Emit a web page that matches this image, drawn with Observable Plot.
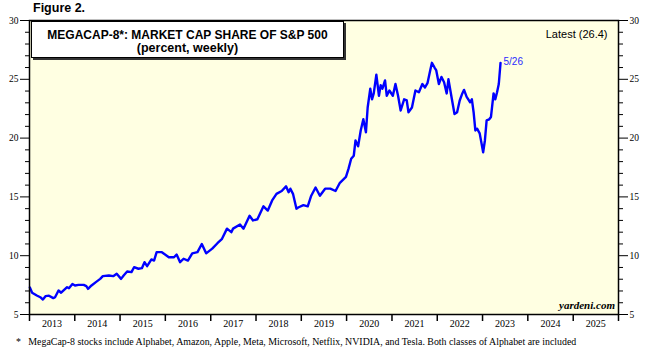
<!DOCTYPE html>
<html>
<head>
<meta charset="utf-8">
<script src="https://cdn.jsdelivr.net/npm/d3@7"></script>
<script src="https://cdn.jsdelivr.net/npm/@observablehq/plot@0.6"></script>
<style>
  html, body { margin: 0; padding: 0; background: white; }
  #wrap { position: relative; width: 647px; height: 348px; overflow: hidden; }
  #wrap svg { position: absolute; left: 0; top: 0; }
  .fig { position: absolute; left: 33px; top: 1px; font: bold 12.5px "Liberation Sans", Arial, sans-serif; }
  .tbox { position: absolute; left: 31px; top: 21px; width: 311px; height: 35px; background: white;
          border: 1px solid #000; box-shadow: 2px 2px 0 #333; text-align: center;
          font-family: "Liberation Sans", Arial, sans-serif; font-weight: bold; }
  .tbox .t1 { font-size: 12px; margin-top: 7px; line-height: 13px; }
  .tbox .t2 { font-size: 12.5px; line-height: 13px; }
  .foot { position: absolute; left: 16px; top: 336px; font: 9.9px "Liberation Serif", "Times New Roman", serif; white-space: nowrap; }
  .brand { position: absolute; right: 32px; top: 299px; font: bold italic 11px "Liberation Serif", "Times New Roman", serif; }
</style>
</head>
<body>
<div id="wrap"></div>
<script>
// ---- Data ----
const dates = [
"2013-01-04","2013-01-22","2013-03-01","2013-03-29","2013-04-19","2013-05-10","2013-06-07","2013-07-12","2013-07-26","2013-08-23",
"2013-09-13","2013-10-31","2013-11-15","2013-12-13","2014-01-03","2014-01-31","2014-03-14","2014-04-04","2014-04-18","2014-05-16",
"2014-06-20","2014-07-25","2014-08-15","2014-10-03","2014-11-07","2014-12-05","2015-01-09","2015-01-30","2015-02-27","2015-04-03",
"2015-04-24","2015-05-29","2015-06-26","2015-07-17","2015-08-07","2015-09-11","2015-10-02","2015-10-23","2015-12-04","2016-01-29",
"2016-03-11","2016-04-01","2016-04-29","2016-05-27","2016-07-01","2016-08-05","2016-09-16","2016-10-21","2016-11-25","2017-01-13",
"2017-02-24","2017-03-31","2017-05-12","2017-06-16","2017-06-30","2017-08-25","2017-09-22","2017-11-10","2017-12-08","2018-01-12",
"2018-03-02","2018-04-06","2018-05-11","2018-06-15","2018-07-27","2018-08-31","2018-09-21","2018-10-05","2018-10-26","2018-11-23",
"2018-12-07","2019-01-18","2019-02-22","2019-03-22","2019-04-26","2019-05-31","2019-07-12","2019-08-23","2019-10-04","2019-11-08",
"2019-12-27","2020-01-17","2020-02-07","2020-02-28","2020-03-13","2020-04-03","2020-04-24","2020-05-15","2020-06-05","2020-06-19",
"2020-07-10","2020-07-24","2020-08-07","2020-08-28","2020-09-18","2020-10-02","2020-10-16","2020-11-06","2020-11-20","2020-12-11",
"2021-01-08","2021-01-29","2021-02-19","2021-03-12","2021-04-09","2021-04-30","2021-05-14","2021-06-11","2021-07-09","2021-08-06",
"2021-09-03","2021-09-24","2021-10-15","2021-11-05","2021-11-19","2021-12-10","2021-12-24","2022-01-14","2022-02-04","2022-02-25",
"2022-03-18","2022-04-01","2022-04-29","2022-05-20","2022-06-10","2022-07-01","2022-07-22","2022-08-05","2022-08-26","2022-09-23",
"2022-10-07","2022-10-21","2022-11-04","2022-11-18","2022-12-09","2023-01-06","2023-01-20","2023-02-03","2023-02-24","2023-03-10",
"2023-03-31","2023-04-14","2023-04-28","2023-05-12","2023-05-26"
];
const values = [
7.3,6.85,6.62,6.47,6.27,6.56,6.6,6.39,6.47,7.04,
6.85,7.32,7.24,7.6,7.47,7.52,7.52,7.41,7.18,7.47,
7.75,8.03,8.26,8.32,8.26,8.46,8.03,8.32,8.66,8.6,
9.02,8.89,8.94,9.45,9.11,9.68,9.59,10.3,10.3,9.87,
9.87,10.1,9.45,9.74,9.59,10.2,10.3,11.0,10.2,10.6,
11.06,11.4,12.3,12.0,12.3,12.65,12.3,13.4,13.0,13.1,
14.2,13.84,14.7,15.26,15.5,15.9,15.4,15.7,15.26,14.0,
14.1,14.3,14.2,15.1,15.8,15.1,15.7,15.7,15.5,16.2,
16.7,17.4,18.24,18.5,19.8,19.3,20.65,21.6,20.5,22.6,
24.2,23.3,23.8,25.4,23.6,24.5,24.2,24.9,23.6,24.05,
23.6,24.6,23.6,22.35,23.3,23.2,22.2,22.6,24.05,23.9,
24.6,24.3,24.7,25.75,26.4,26.0,25.75,24.6,25.2,24.75,
23.8,25.0,23.3,22.05,22.2,23.2,23.8,24.1,23.5,23.05,
23.3,22.2,20.65,20.8,20.4,18.8,19.8,21.5,21.6,21.8,
23.8,23.3,23.9,24.6,26.4
];
const years = [2013,2014,2015,2016,2017,2018,2019,2020,2021,2022,2023,2024,2025];
const yMajor = [5,10,15,20,25,30];
const yMinor = [6,7,8,9,11,12,13,14,16,17,18,19,21,22,23,24,26,27,28,29];
const titleLine1 = "MEGACAP-8*: MARKET CAP SHARE OF S&P 500";
const titleLine2 = "(percent, weekly)";
const figureLabel = "Figure 2.";
const footnote = "*\u00a0\u00a0\u00a0MegaCap-8 stocks include Alphabet, Amazon, Apple, Meta, Microsoft, Netflix, NVIDIA, and Tesla. Both classes of Alphabet are included";
const brand = "yardeni.com";

// ---- Build ----
const data = dates.map((d, i) => ({date: new Date(d), value: values[i]}));
const last = data[data.length - 1];
const yearStarts = years.concat([years[years.length - 1] + 1]).map(y => new Date(Date.UTC(y, 0, 1)));
const yearMids = years.map(y => new Date(Date.UTC(y, 6, 2)));

const serif = "Liberation Serif";
const chart = Plot.plot({
  width: 647,
  height: 348,
  marginTop: 20,
  marginBottom: 34,
  marginLeft: 29,
  marginRight: 29,
  style: {background: "white", color: "black", fontFamily: serif, fontSize: "10px"},
  x: {type: "utc", domain: [yearStarts[0], yearStarts[yearStarts.length - 1]]},
  y: {domain: [5, 30]},
  marks: [
    Plot.frame({fill: "#ffffe2", stroke: "none"}),
    Plot.lineY(data, {x: "date", y: "value", stroke: "#0000ff", strokeWidth: 2.4}),
    Plot.text([last], {x: "date", y: "value", text: d => `${d.date.getUTCMonth() + 1}/${d.date.getUTCDate()}`,
      textAnchor: "start", dx: 3, dy: -1, fill: "#2a2aff", fontFamily: "Liberation Sans", fontSize: 10}),
    Plot.text([last], {frameAnchor: "top-right", text: d => `Latest (${d.value})`, textAnchor: "end",
      lineAnchor: "middle", dx: -11, dy: 13.5, fontFamily: "Liberation Sans", fontSize: 11}),
    Plot.frame({stroke: "black", strokeWidth: 1.5}),
    Plot.axisY(yMajor, {anchor: "left", tickSize: 9, tickPadding: 2, fontSize: 9.5, label: null}),
    Plot.axisY(yMinor, {anchor: "left", tickSize: 4, tickFormat: () => "", label: null}),
    Plot.axisY(yMajor, {anchor: "right", tickSize: 9, tickPadding: 2, fontSize: 9.5, label: null}),
    Plot.axisY(yMinor, {anchor: "right", tickSize: 4, tickFormat: () => "", label: null}),
    Plot.axisX(yearStarts, {anchor: "bottom", tickSize: 7, strokeWidth: 1.5, tickFormat: () => "", label: null}),
    Plot.axisX(yearMids, {anchor: "bottom", tickSize: 0, tickPadding: 5.5, fontSize: 10, tickFormat: d => String(d.getUTCFullYear()), label: null})
  ]
});

const wrap = document.getElementById("wrap");
wrap.appendChild(chart);
const fig = document.createElement("div"); fig.className = "fig"; fig.textContent = figureLabel; wrap.appendChild(fig);
const box = document.createElement("div"); box.className = "tbox";
const t1 = document.createElement("div"); t1.className = "t1"; t1.textContent = titleLine1;
const t2 = document.createElement("div"); t2.className = "t2"; t2.textContent = titleLine2;
box.appendChild(t1); box.appendChild(t2); wrap.appendChild(box);
const br = document.createElement("div"); br.className = "brand"; br.textContent = brand; wrap.appendChild(br);
const ft = document.createElement("div"); ft.className = "foot"; ft.textContent = footnote; wrap.appendChild(ft);
</script>
</body>
</html>
